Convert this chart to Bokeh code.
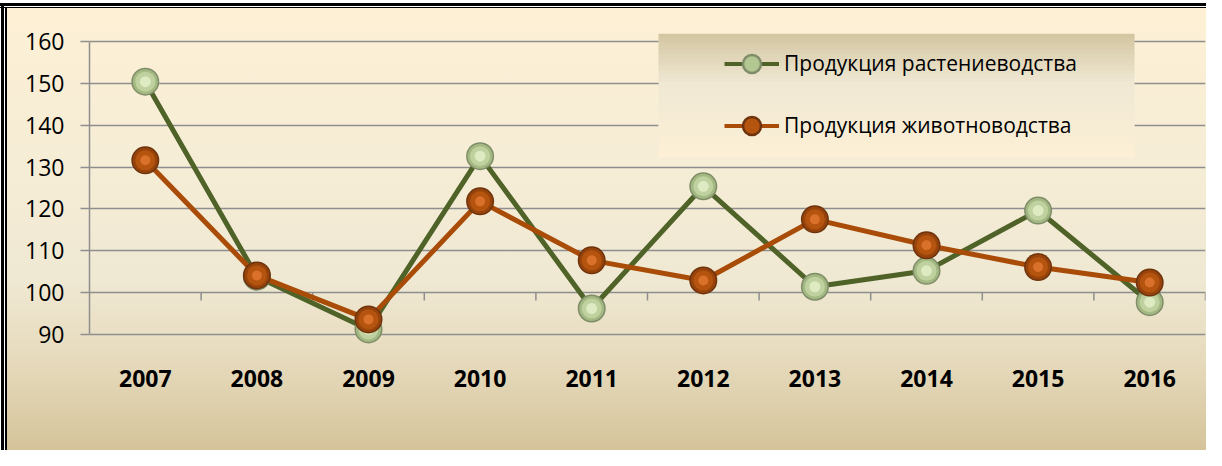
from bokeh.plotting import figure
from bokeh.models import (FixedTicker, Range1d, Legend, LegendItem, BoxAnnotation, ColumnDataSource)
from bokeh.embed import file_html
from bokeh.resources import INLINE

# ---- data ----
years = [2007, 2008, 2009, 2010, 2011, 2012, 2013, 2014, 2015, 2016]
year_labels = ["2007", "2008", "2009", "2010", "2011", "2012", "2013", "2014", "2015", "2016"]
crop = [150.4, 103.8, 91.2, 132.6, 96.2, 125.4, 101.4, 105.2, 119.6, 97.7]
livestock = [131.6, 104.1, 93.6, 121.8, 107.7, 102.9, 117.5, 111.3, 106.1, 102.4]
y_ticks = [90, 100, 110, 120, 130, 140, 150, 160]
series_names = ["Продукция растениеводства", "Продукция животноводства"]

W, H = 1206, 450
BL, BR, BT, BB = 89, 1, 33, 106
Y0, Y1 = 87.6, 161.9
X0, X1 = years[0] - 0.5, years[-1] + 0.5
frame_w = W - BL - BR
frame_h = H - BT - BB
px_y = frame_h / (Y1 - Y0)
px_x = frame_w / (X1 - X0)

p = figure(width=W, height=H, output_backend="svg", toolbar_location=None,
           x_range=Range1d(X0, X1), y_range=Range1d(Y0, Y1),
           min_border_left=BL, min_border_right=BR, min_border_top=BT, min_border_bottom=BB)
p.background_fill_color = None
p.border_fill_color = None
p.outline_line_color = None
p.styles = {
    "background-color": "white",
    "background-image": (
        "linear-gradient(#000,#000), linear-gradient(#000,#000), "
        "linear-gradient(#000,#000), linear-gradient(#000,#000), "
        "linear-gradient(to bottom, #FDF0D5 0%, #F6EDD6 35%, #EFE8D2 62%, #E6DABC 80%, #D5C49A 100%)"
    ),
    "background-position": "0px 3px, 0px 7px, 1px 3px, 5px 7px, 7px 8px",
    "background-size": "100% 3px, 100% 1px, 3px calc(100% - 3px), 2px calc(100% - 7px), calc(100% - 7px) calc(100% - 8px)",
    "background-repeat": "no-repeat",
}

GRID = "#8E8E8E"
# grid
p.xgrid.visible = False
p.ygrid.ticker = FixedTicker(ticks=y_ticks)
p.ygrid.grid_line_color = GRID
p.ygrid.grid_line_width = 1.5

# y axis
p.yaxis.ticker = FixedTicker(ticks=y_ticks)
p.yaxis.bounds = (y_ticks[0], y_ticks[-1])
p.yaxis.axis_line_color = GRID
p.yaxis.axis_line_width = 1.5
p.yaxis.major_tick_line_color = GRID
p.yaxis.major_tick_line_width = 1.5
p.yaxis.major_tick_out = 9
p.yaxis.major_tick_in = 0
p.yaxis.minor_tick_line_color = None
p.yaxis.major_label_standoff = 16
p.yaxis.major_label_text_font = "Open Sans"
p.yaxis.major_label_text_font_size = "23px"
p.yaxis.major_label_text_color = "black"

# x axis
p.xaxis.ticker = FixedTicker(ticks=years)
p.xaxis.major_label_overrides = {y: l for y, l in zip(years, year_labels)}
p.xaxis.axis_line_color = None
p.xaxis.major_tick_line_color = None
p.xaxis.minor_tick_line_color = None
p.xaxis.major_label_standoff = 19
p.xaxis.major_label_text_font = "Open Sans"
p.xaxis.major_label_text_font_size = "23px"
p.xaxis.major_label_text_font_style = "bold"
p.xaxis.major_label_text_color = "black"

# category boundary tick marks on the 100 line
bounds = [y + 0.5 for y in years]
p.segment(x0=bounds, y0=[100] * len(bounds), x1=bounds, y1=[100 - 8 / px_y] * len(bounds),
          line_color=GRID, line_width=1.5)

GREEN_LINE = "#4F6228"
BROWN_LINE = "#A84C08"
green_layers = [("#7F8D68", 28), ("#A3B882", 25), ("#BFD19F", 20), ("#DDEAC2", 11)]
brown_layers = [("#6E330C", 28), ("#96430C", 25), ("#B5540F", 20), ("#D9712B", 10)]

src_g = ColumnDataSource(dict(x=years, y=crop))
src_b = ColumnDataSource(dict(x=years, y=livestock))

p.line("x", "y", source=src_g, line_color=GREEN_LINE, line_width=5)
for c, s in green_layers:
    p.scatter("x", "y", source=src_g, size=s, fill_color=c, line_color=None)
p.line("x", "y", source=src_b, line_color=BROWN_LINE, line_width=5)
for c, s in brown_layers:
    p.scatter("x", "y", source=src_b, size=s, fill_color=c, line_color=None)

# page-pixel helpers (figure sits at page offset 8,8)
FRAME_LEFT = 8 + BL
FRAME_BOTTOM = 8 + BT + frame_h

def px2x(px):
    return X0 + (px - FRAME_LEFT) / px_x

def py2y(py):
    return Y0 + (FRAME_BOTTOM - py) / px_y

# legend background (gradient made of strips)
lx0, lx1, ly0, ly1 = 666, 1142, 41, 165
stops = [(0.0, (0xD3, 0xC5, 0xA1)), (0.4, (0xEF, 0xE8, 0xD3)), (1.0, (0xFD, 0xF0, 0xD6))]

def interp(t):
    for (t0, c0), (t1, c1) in zip(stops[:-1], stops[1:]):
        if t0 <= t <= t1:
            f = (t - t0) / (t1 - t0)
            return "#%02X%02X%02X" % tuple(int(round(a + (b - a) * f)) for a, b in zip(c0, c1))
    return "#%02X%02X%02X" % stops[-1][1]

N = 31
for i in range(N):
    top = ly0 + (ly1 - ly0) * i / N
    bot = ly0 + (ly1 - ly0) * (i + 1) / N + 0.6
    p.add_layout(BoxAnnotation(left=px2x(lx0), right=px2x(lx1), top=py2y(top), bottom=py2y(min(bot, ly1)),
                               fill_color=interp((i + 0.5) / N), fill_alpha=1, line_color=None))

# legend proxy renderers (a single NaN point: drawn only in the legend)
nan = float("nan")
proxy = ColumnDataSource(dict(x=[nan], y=[nan]))
leg_g = [p.line("x", "y", source=proxy, line_color=GREEN_LINE, line_width=4),
         p.scatter("x", "y", source=proxy, fill_color="#B3C792", line_color="#7F8D68", line_width=2.5)]
leg_b = [p.line("x", "y", source=proxy, line_color=BROWN_LINE, line_width=4),
         p.scatter("x", "y", source=proxy, fill_color="#B5540F", line_color="#6E330C", line_width=2.5)]

pad = 10
GH = 45
item1_cy, item2_cy, glyph_left = 72, 134, 733
DX, DY = 9, 11  # empirical correction of the legend anchor
legend = Legend(items=[LegendItem(label=series_names[0], renderers=leg_g, index=0),
                       LegendItem(label=series_names[1], renderers=leg_b, index=0)],
                location=(glyph_left - pad - FRAME_LEFT + DX,
                          FRAME_BOTTOM - (item2_cy + GH / 2 + pad) + DY),
                padding=pad, spacing=(item2_cy - item1_cy) - GH, glyph_width=55, glyph_height=GH,
                label_height=28, label_standoff=5, margin=0,
                background_fill_alpha=0, border_line_color=None,
                label_text_font="Open Sans", label_text_font_size="21px", label_text_color="black")
p.add_layout(legend)

open("out.html", "w").write(file_html(p, INLINE))
